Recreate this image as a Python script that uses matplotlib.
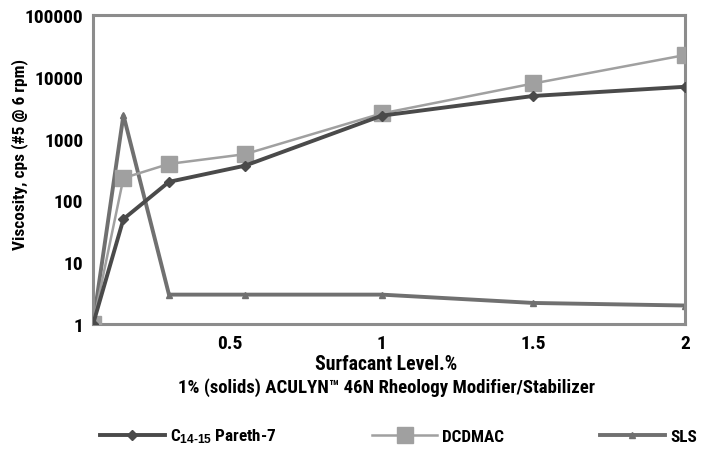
import matplotlib
matplotlib.use('Agg')
import matplotlib.pyplot as plt

plt.rcParams['font.family'] = ['Liberation Sans Narrow', 'Roboto Condensed', 'Liberation Sans', 'DejaVu Sans']
plt.rcParams['font.weight'] = 'bold'
plt.rcParams['mathtext.fontset'] = 'custom'
plt.rcParams['mathtext.rm'] = 'Liberation Sans:bold'
plt.rcParams['mathtext.default'] = 'rm'

# data
x_pareth = [0.05, 0.15, 0.3, 0.55, 1.0, 1.5, 2.0]
y_pareth = [1, 50, 200, 365, 2350, 4900, 6900]
x_dcdmac = [0.05, 0.15, 0.3, 0.55, 1.0, 1.5, 2.0]
y_dcdmac = [1, 230, 390, 560, 2550, 7800, 22500]
x_sls = [0.05, 0.15, 0.3, 0.55, 1.0, 1.5, 2.0]
y_sls = [1, 2400, 3, 3, 3, 2.2, 2]
labels = [r'C$_{14\text{-}15}$ Pareth-7', 'DCDMAC', 'SLS']
xticks = [0.5, 1, 1.5, 2]
yticks = [1, 10, 100, 1000, 10000, 100000]

fig = plt.figure(figsize=(7.05, 4.56), dpi=100)
ax = fig.add_axes([0.132, 0.287, 0.84, 0.678])

ax.plot(x_pareth, y_pareth, color='#4a4a4a', lw=2.8, marker='D', ms=5,
        label=labels[0], zorder=4)
ax.plot(x_dcdmac, y_dcdmac, color='#a0a0a0', lw=1.8, marker='s', ms=12,
        label=labels[1], zorder=3)
ax.plot(x_sls, y_sls, color='#707070', lw=2.8, marker='^', ms=5,
        label=labels[2], zorder=2)

ax.set_yscale('log')
ax.set_xlim(0.05, 2)
ax.set_ylim(1, 100000)
ax.set_xticks(xticks)
ax.set_xticklabels(['0.5', '1', '1.5', '2'])
ax.set_yticks(yticks)
ax.set_yticklabels([str(v) for v in yticks])
ax.minorticks_off()
ax.tick_params(length=0, labelsize=14, pad=7)
for s in ax.spines.values():
    s.set_color('#8c8c8c')
    s.set_linewidth(2.2)

fig.text(20 / 705, 1 - 155 / 456, 'Viscosity, cps (#5 @ 6 rpm)', rotation=90,
         ha='center', va='center', fontsize=12.4)
fig.text(0.548, 1 - 365 / 456, 'Surfacant Level.%', ha='center', va='center', fontsize=14.2)
fig.text(0.548, 1 - 388 / 456, '1% (solids) ACULYN\u2122 46N Rheology Modifier/Stabilizer',
         ha='center', va='center', fontsize=13.5)

fig.legend(loc='center', bbox_to_anchor=(0.565, 1 - 437 / 456), ncol=3, frameon=False,
           fontsize=12.3, handlelength=3.8, columnspacing=5.6, handletextpad=0.3)

fig.savefig('out.png', dpi=100)
